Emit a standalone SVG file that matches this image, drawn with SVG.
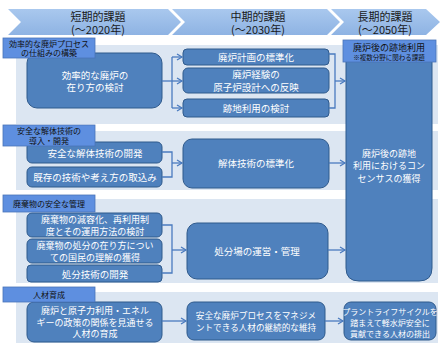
<svg xmlns="http://www.w3.org/2000/svg" width="442" height="345" viewBox="0 0 442 345">
<defs>
<linearGradient id="hg" x1="0" y1="0" x2="0" y2="1">
<stop offset="0" stop-color="#a9c8ee"/>
<stop offset="1" stop-color="#8eb3e3"/>
</linearGradient>
<marker id="ar" markerWidth="8" markerHeight="8" refX="6" refY="4" orient="auto" markerUnits="userSpaceOnUse">
<path d="M1,1 L6,4 L1,7" fill="none" stroke="#4a7bbf" stroke-width="1.3"/>
</marker>
</defs>
<style>
text{font-family:"Noto Sans CJK JP","Noto Sans",sans-serif;text-anchor:middle;dominant-baseline:central}
.hd{fill:url(#hg)}
.ht{font-size:11px;fill:#1a1a1a}
.pn{fill:#dce6f2}
.lb{fill:#5e8fe0;stroke:#4a74b8;stroke-width:0.8}
.lt{font-size:8px;fill:#111}
.bx{fill:#4f81bd;stroke:#2f5a8c;stroke-width:1}
.bt{font-size:9.5px;fill:#fff}
.st{font-size:8px;fill:#fff}
.cn{fill:none;stroke:#4a7bbf;stroke-width:1.3}
</style>
<rect width="442" height="345" fill="#fff"/>
<g id="header">
<polygon class="hd" points="8,9 168,9 181,22 168,35 8,35 21,22"/>
<polygon class="hd" points="172,9 327,9 340,22 327,35 172,35 185,22"/>
<polygon class="hd" points="331,9 426,9 440,22 426,35 331,35 344,22"/>
<text class="ht" x="98" y="15.5">短期的課題</text>
<text class="ht" x="98" y="29">(～2020年)</text>
<text class="ht" x="258" y="15.5">中期的課題</text>
<text class="ht" x="258" y="29">(～2030年)</text>
<text class="ht" x="385" y="15.5">長期的課題</text>
<text class="ht" x="385" y="29">(～2050年)</text>
</g>
<g id="panels">
<rect class="pn" x="16" y="45" width="422" height="79"/>
<rect class="pn" x="16" y="131" width="422" height="59"/>
<rect class="pn" x="16" y="199" width="422" height="84"/>
<rect class="pn" x="16" y="292" width="422" height="51"/>
</g>
<g id="longterm">
<path class="bx" d="M346,45 H432 V268 Q432,281 419,281 H359 Q346,281 346,268 Z"/>
<rect class="lb" x="343" y="40" width="93" height="22"/>
<text class="lt" x="389" y="47" style="font-size:9px">廃炉後の跡地利用</text>
<text class="lt" x="389" y="57" style="font-size:6.5px">※複数分野に関わる課題</text>
<text class="bt" x="389" y="153" style="font-size:9px">廃炉後の跡地</text>
<text class="bt" x="389" y="165" style="font-size:9px">利用におけるコン</text>
<text class="bt" x="389" y="178" style="font-size:9px">センサスの獲得</text>
</g>
<g id="sec1">
<g id="n1"><rect class="bx" x="27" y="53" width="135" height="55" rx="10"/>
<text class="bt" x="95" y="75">効率的な廃炉の</text>
<text class="bt" x="95" y="87">在り方の検討</text></g>
<g id="n2"><rect class="bx" x="183" y="49" width="146" height="16" rx="4"/>
<text class="bt" x="256" y="57">廃炉計画の標準化</text></g>
<g id="n3"><rect class="bx" x="183" y="68" width="146" height="25" rx="5"/>
<text class="bt" x="256" y="74">廃炉経験の</text>
<text class="bt" x="256" y="87">原子炉設計への反映</text></g>
<g id="n4"><rect class="bx" x="183" y="99" width="146" height="18" rx="4"/>
<text class="bt" x="256" y="108">跡地利用の検討</text></g>
<g id="l1"><rect class="lb" x="3" y="38" width="92" height="20"/>
<text class="lt" x="49" y="43.5">効率的な廃炉プロセス</text>
<text class="lt" x="49" y="52.5">の仕組みの構築</text></g>
</g>
<g id="sec2">
<g id="n5"><rect class="bx" x="27" y="142" width="135" height="21" rx="5"/>
<text class="bt" x="95" y="152.5">安全な解体技術の開発</text></g>
<g id="n6"><rect class="bx" x="27" y="167" width="135" height="20" rx="5"/>
<text class="bt" x="95" y="177">既存の技術や考え方の取込み</text></g>
<g id="n7"><rect class="bx" x="183" y="139" width="146" height="49" rx="9"/>
<text class="bt" x="256" y="163">解体技術の標準化</text></g>
<g id="l2"><rect class="lb" x="3" y="125" width="92" height="21"/>
<text class="lt" x="49" y="130.5">安全な解体技術の</text>
<text class="lt" x="49" y="140">導入・開発</text></g>
</g>
<g id="sec3">
<g id="n8"><rect class="bx" x="27" y="213" width="135" height="24" rx="5"/>
<text class="bt" x="95" y="219" style="font-size:9px">廃棄物の減容化、再利用制</text>
<text class="bt" x="95" y="231" style="font-size:9px">度とその運用方法の検討</text></g>
<g id="n9"><rect class="bx" x="27" y="239" width="135" height="24" rx="5"/>
<text class="bt" x="95" y="245" style="font-size:9px">廃棄物の処分の在り方につい</text>
<text class="bt" x="95" y="257" style="font-size:9px">ての国民の理解の獲得</text></g>
<g id="n10"><rect class="bx" x="27" y="265" width="135" height="17" rx="4"/>
<text class="bt" x="95" y="273.5">処分技術の開発</text></g>
<g id="n11"><rect class="bx" x="187" y="223" width="141" height="56" rx="10"/>
<text class="bt" x="257" y="251">処分場の運営・管理</text></g>
<g id="l3"><rect class="lb" x="3" y="195" width="92" height="17"/>
<text class="lt" x="49" y="203.5">廃棄物の安全な管理</text></g>
</g>
<g id="sec4">
<g id="n12"><rect class="bx" x="27" y="302" width="135" height="40" rx="7"/>
<text class="bt" x="95" y="310" style="font-size:9px">廃炉と原子力利用・エネル</text>
<text class="bt" x="95" y="322" style="font-size:9px">ギーの政策の関係を見通せる</text>
<text class="bt" x="95" y="333" style="font-size:9px">人材の育成</text></g>
<g id="n13"><rect class="bx" x="187" y="302" width="138" height="38" rx="7"/>
<text class="bt" x="256" y="315" style="font-size:8.6px">安全な廃炉プロセスをマネジメ</text>
<text class="bt" x="256" y="327" style="font-size:8.6px">ントできる人材の継続的な維持</text></g>
<g id="n14"><rect class="bx" x="344" y="302" width="92" height="38" rx="7"/>
<text class="st" x="390" y="311">プラントライフサイクルを</text>
<text class="st" x="390" y="322">踏まえて軽水炉安全に</text>
<text class="st" x="390" y="333">貢献できる人材の排出</text></g>
<g id="l4"><rect class="lb" x="3" y="287" width="92" height="15"/>
<text class="lt" x="49" y="294.5">人材育成</text></g>
</g>
<g id="connectors">
<path class="cn" d="M162,81 H172"/>
<path class="cn" d="M172,57 V108"/>
<path class="cn" d="M172,57 H182" marker-end="url(#ar)"/>
<path class="cn" d="M172,81 H182" marker-end="url(#ar)"/>
<path class="cn" d="M172,108 H182" marker-end="url(#ar)"/>
<path class="cn" d="M329,54 H335 V108 H329"/>
<path class="cn" d="M335,81 H345" marker-end="url(#ar)"/>
<path class="cn" d="M162,152 H172 V177 H162"/>
<path class="cn" d="M172,163 H182" marker-end="url(#ar)"/>
<path class="cn" d="M329,163 H345" marker-end="url(#ar)"/>
<path class="cn" d="M162,225 H172 V273 H162"/>
<path class="cn" d="M172,250 H186" marker-end="url(#ar)"/>
<path class="cn" d="M328,250 H345" marker-end="url(#ar)"/>
<path class="cn" d="M162,321 H186" marker-end="url(#ar)"/>
<path class="cn" d="M325,321 H343" marker-end="url(#ar)"/>
</g>
</svg>
